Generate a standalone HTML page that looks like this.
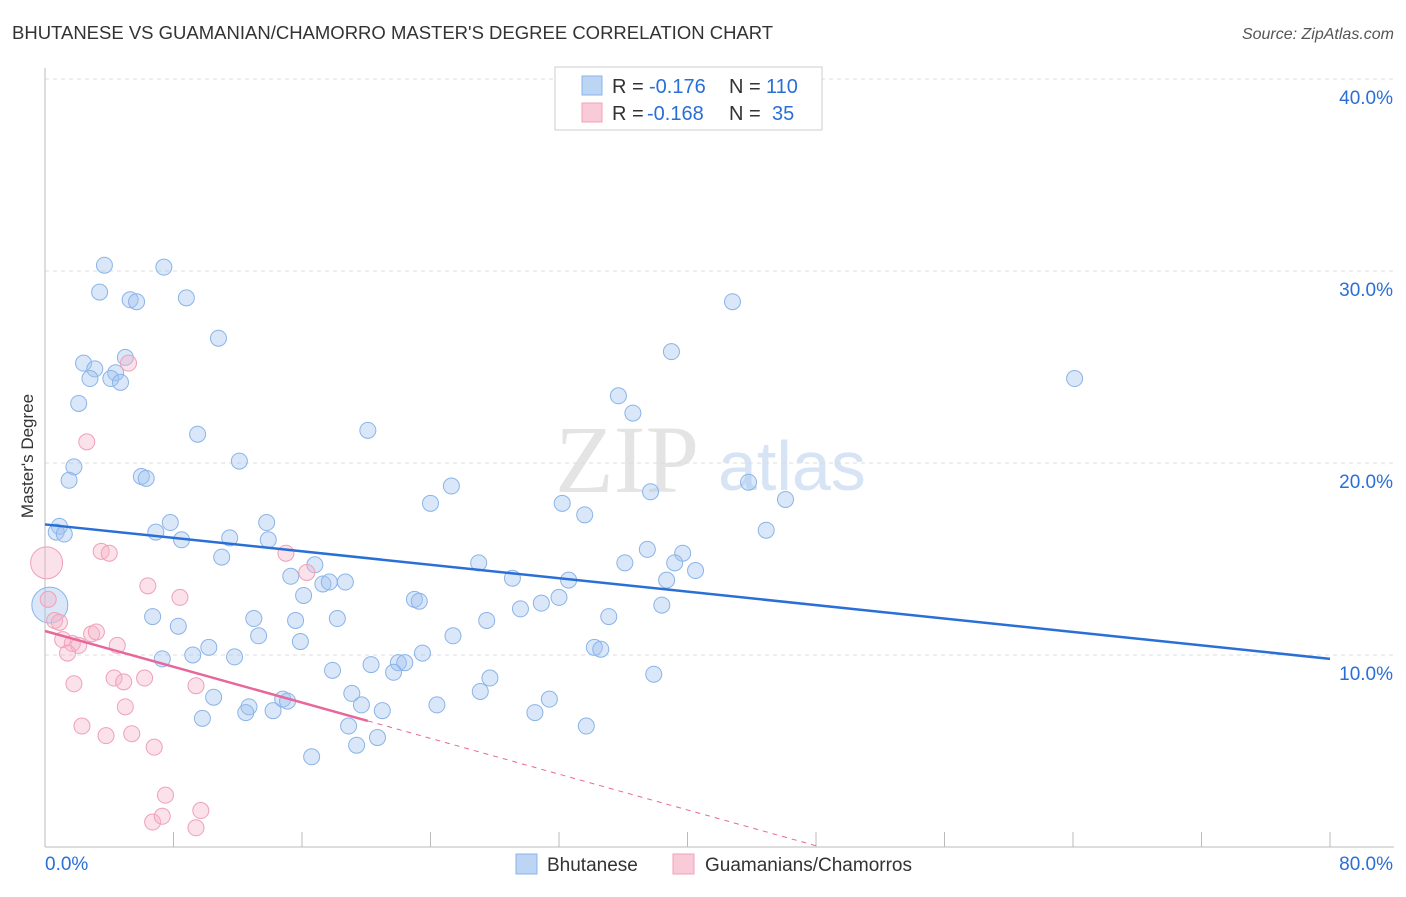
<!DOCTYPE html>
<html><head><meta charset="utf-8"><style>
body{margin:0;background:#fff;font-family:"Liberation Sans",sans-serif;}
</style></head><body>
<svg width="1406" height="892" xmlns="http://www.w3.org/2000/svg" id="chart">
<text x="12" y="39" font-size="18.5" fill="#333">BHUTANESE VS GUAMANIAN/CHAMORRO MASTER'S DEGREE CORRELATION CHART</text>
<text x="1394" y="39" font-size="16" fill="#555" font-style="italic" text-anchor="end">Source: ZipAtlas.com</text>
<text x="555" y="492" font-size="96" fill="#e4e4e4" font-family="Liberation Serif,serif">ZIP</text>
<text x="718" y="490" font-size="70" fill="#d6e4f5">atlas</text>
<text transform="translate(33,456) rotate(-90)" font-size="17" fill="#333" text-anchor="middle">Master's Degree</text>
<g id="grid"></g><g id="pts"></g><g id="trend"></g>
<g>
<rect x="555" y="67" width="267" height="63" fill="#fff" stroke="#ccc"/>
<rect x="582" y="76" width="20" height="19" fill="#bcd5f5" stroke="#8ab4e8"/>
<g font-size="20">
<text x="612" y="93" fill="#333">R =</text><text x="649" y="93" fill="#2a6fd6">-0.176</text>
<text x="729" y="93" fill="#333">N =</text><text x="766" y="93" fill="#2a6fd6">110</text></g>
<rect x="582" y="103" width="20" height="19" fill="#f9cbd9" stroke="#f0a0b8"/>
<g font-size="20">
<text x="612" y="120" fill="#333">R =</text><text x="647" y="120" fill="#2a6fd6">-0.168</text>
<text x="729" y="120" fill="#333">N =</text><text x="772" y="120" fill="#2a6fd6">35</text></g>
</g>
<g>
<rect x="516" y="854" width="21" height="20" fill="#bcd5f5" stroke="#8ab4e8"/>
<text x="547" y="871" font-size="19" fill="#333">Bhutanese</text>
<rect x="673" y="854" width="21" height="20" fill="#f9cbd9" stroke="#f0a0b8"/>
<text x="705" y="871" font-size="19" fill="#333">Guamanians/Chamorros</text>
</g>
</svg>
<script>
const yTicks=[10,20,30,40];
const xTickLabels=["0.0%","80.0%"];
const blueX=[3.7,7.4,3.4,5.3,5.7,8.8,10.8,2.4,5.0,3.1,4.4,2.8,4.1,4.7,2.1,9.5,1.8,12.1,1.5,6.0,6.3,0.9,0.7,1.2,7.8,6.9,8.5,11.5,13.8,13.9,11.0,20.1,42.8,39.0,64.1,35.7,36.6,24.0,25.3,32.2,33.6,37.7,43.8,46.1,44.9,37.5,39.7,36.1,39.2,40.5,38.7,27.0,16.8,15.3,18.7,17.3,17.7,16.1,23.0,23.3,29.1,32.6,32.0,30.9,29.6,38.4,35.1,27.5,18.2,15.6,6.7,8.3,13.0,13.3,15.9,25.4,10.2,7.3,9.2,11.8,23.5,34.2,34.6,20.3,22.0,22.4,21.7,17.9,27.7,37.9,27.1,19.1,10.5,19.7,14.8,15.1,12.7,21.0,24.4,31.4,12.5,14.2,30.5,9.8,18.9,20.7,19.4,33.7,16.6,0.3];
const blueY=[30.3,30.2,28.9,28.5,28.4,28.6,26.5,25.2,25.5,24.9,24.7,24.4,24.4,24.2,23.1,21.5,19.8,20.1,19.1,19.3,19.2,16.7,16.4,16.3,16.9,16.4,16.0,16.1,16.9,16.0,15.1,21.7,28.4,25.8,24.4,23.5,22.6,17.9,18.8,17.9,17.3,18.5,19.0,18.1,16.5,15.5,15.3,14.8,14.8,14.4,13.9,14.8,14.7,14.1,13.8,13.7,13.8,13.1,12.9,12.8,14.0,13.9,13.0,12.7,12.4,12.6,12.0,11.8,11.9,11.8,12.0,11.5,11.9,11.0,10.7,11.0,10.4,9.8,10.0,9.9,10.1,10.4,10.3,9.5,9.6,9.6,9.1,9.2,8.8,9.0,8.1,8.0,7.8,7.4,7.7,7.6,7.3,7.1,7.4,7.7,7.0,7.1,7.0,6.7,6.3,5.7,5.3,6.3,4.7,12.6];
const pinkX=[5.2,2.6,15.0,3.5,4.0,16.3,6.4,8.4,0.1,0.6,0.9,2.9,3.2,1.1,1.7,2.1,4.5,1.4,1.8,4.3,4.9,6.2,9.4,5.0,2.3,3.8,5.4,6.8,7.5,9.7,6.7,7.3,9.4,0.2];
const pinkY=[25.2,21.1,15.3,15.4,15.3,14.3,13.6,13.0,14.8,11.8,11.7,11.1,11.2,10.8,10.6,10.5,10.5,10.1,8.5,8.8,8.6,8.8,8.4,7.3,6.3,5.8,5.9,5.2,2.7,1.9,1.3,1.6,1.0,12.9];
const blueTrend=[16.8,9.8];
const pinkTrend=[11.25,-0.233];
const NS="http://www.w3.org/2000/svg";
const X=v=>45+v*16.0625, Y=v=>847-v*19.2;
function mk(t,a,p){const e=document.createElementNS(NS,t);for(const k in a)e.setAttribute(k,a[k]);p.appendChild(e);return e;}
const grid=document.getElementById('grid');
yTicks.forEach(t=>{
 const l=mk('line',{x1:45,x2:1394,y1:Y(t),y2:Y(t),stroke:'#ddd','stroke-dasharray':'4,4'},grid);
 
 
 const tx=mk('text',{x:1393,y:Y(t)+25,'font-size':19,fill:'#2a6fd6','text-anchor':'end'},grid);
 tx.textContent=t.toFixed(1)+'%';
 
 
});
const ax=mk('line',{x1:45,x2:45,y1:68,y2:847,stroke:'#bbb'},grid);


const bx=mk('line',{x1:45,x2:1394,y1:847,y2:847,stroke:'#bbb'},grid);


for(let i=0;i<=10;i++){const t=mk('line',{x1:X(i*8),x2:X(i*8),y1:832,y2:847,stroke:'#bbb'},grid);
 
 }
xTickLabels.forEach((s,i)=>{const t=mk('text',{x:i?1393:45,y:870,'font-size':19,fill:'#2a6fd6','text-anchor':i?'end':'start'},grid);t.textContent=s;
 
 });
const pts=document.getElementById('pts');
blueX.forEach((x,i)=>{const c=mk('circle',{cx:X(x),cy:Y(blueY[i]),r:i==blueX.length-1?18:8,fill:'rgba(160,196,240,0.4)',stroke:'#8ab4e8','stroke-width':1},pts);
 
 });
pinkX.forEach((x,i)=>{const c=mk('circle',{cx:X(x),cy:Y(pinkY[i]),r:i==8?16:8,fill:'rgba(245,180,200,0.4)',stroke:'#f0a0b8','stroke-width':1},pts);
 
 });
const tr=document.getElementById('trend');
const b=mk('line',{x1:X(0),y1:Y(blueTrend[0]),x2:X(80),y2:Y(blueTrend[1]),stroke:'#2a6fd6','stroke-width':2.5},tr);


const pf=x=>pinkTrend[0]+pinkTrend[1]*x, xz=-pinkTrend[0]/pinkTrend[1];
const pd=mk('line',{x1:X(20.1),y1:Y(pf(20.1)),x2:X(xz),y2:Y(0),stroke:'#e8679a','stroke-width':1,'stroke-dasharray':'5,5'},tr);


const ps=mk('line',{x1:X(0),y1:Y(pf(0)),x2:X(20.1),y2:Y(pf(20.1)),stroke:'#e8679a','stroke-width':2.5},tr);


</script>
</body></html>
